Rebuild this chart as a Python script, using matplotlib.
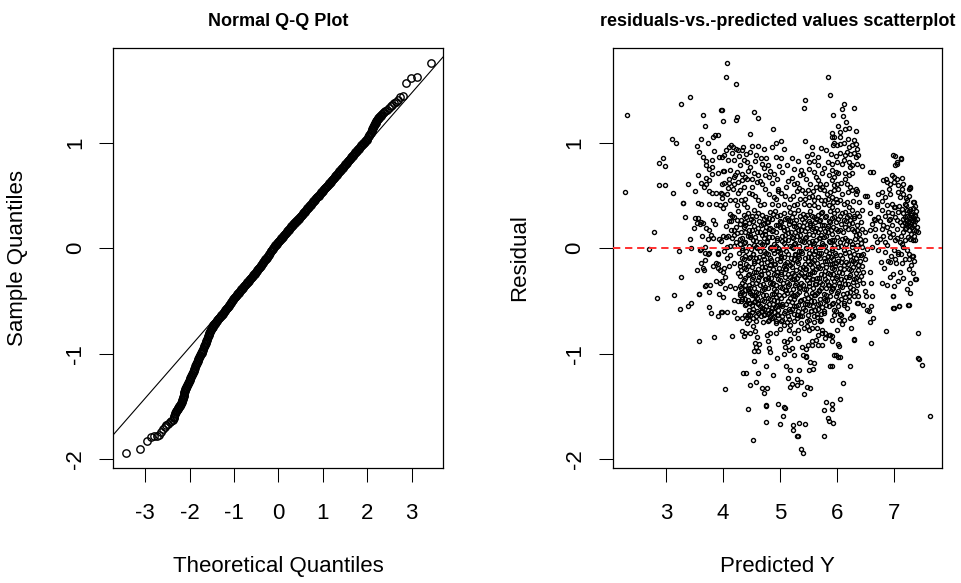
import matplotlib
matplotlib.use("Agg")
import matplotlib.pyplot as plt

plt.rcParams['font.family'] = ['Liberation Sans', 'DejaVu Sans']
plt.rcParams['axes.unicode_minus'] = False

# ---------------- Q-Q plot data (theoretical, sample) ----------------
qq_points = [
    (-3.43, -1.94), (-3.12, -1.90), (-2.96, -1.83), (-2.87, -1.79), (-2.80, -1.775), (-2.74, -1.78),
    (-2.69, -1.77), (-2.64, -1.745), (-2.60, -1.71), (-2.56, -1.69), (-2.52, -1.675), (-2.48, -1.665),
    (-2.44, -1.65), (-2.41, -1.64), (-2.38, -1.625), (-2.36, -1.61), (-2.34, -1.585), (-2.32, -1.56),
    (-2.30, -1.545), (-2.28, -1.53), (-2.26, -1.515), (-2.24, -1.505), (-2.22, -1.49), (-2.20, -1.475),
    (-2.18, -1.46), (-2.16, -1.44), (-2.145, -1.42), (-2.13, -1.40), (-2.12, -1.375), (-2.11, -1.355),
    (-2.10, -1.335), (-2.08, -1.32), (-2.06, -1.305), (-2.04, -1.29), (-2.02, -1.27), (-2.00, -1.25),
    (-1.98, -1.23), (-1.96, -1.21), (-1.94, -1.19), (-1.92, -1.17), (-1.90, -1.15), (-1.88, -1.13),
    (-1.86, -1.11), (-1.84, -1.09), (-1.82, -1.07), (-1.80, -1.05), (-1.78, -1.03), (-1.76, -1.01),
    (-1.74, -0.995), (-1.72, -0.98), (-1.70, -0.96), (-1.68, -0.94), (-1.66, -0.92), (-1.64, -0.90),
    (-1.62, -0.875), (-1.60, -0.855), (-1.58, -0.835), (-1.56, -0.81), (-1.54, -0.79), (-1.52, -0.775),
    (-1.50, -0.76), (-1.48, -0.745), (-1.46, -0.73), (-1.43, -0.715), (-1.40, -0.70), (-1.37, -0.68),
    (-1.34, -0.665), (-1.31, -0.65), (-1.28, -0.635), (-1.25, -0.62), (-1.22, -0.60), (-1.19, -0.585),
    (-1.16, -0.57), (-1.13, -0.555), (-1.10, -0.54), (-1.07, -0.52), (-1.04, -0.50), (-1.01, -0.48),
    (-0.98, -0.465), (-0.95, -0.45), (-0.92, -0.435), (-0.89, -0.42), (-0.86, -0.405), (-0.83, -0.39),
    (-0.80, -0.375), (-0.77, -0.36), (-0.74, -0.345), (-0.71, -0.33), (-0.68, -0.315), (-0.65, -0.30),
    (-0.62, -0.285), (-0.59, -0.27), (-0.56, -0.255), (-0.53, -0.24), (-0.50, -0.225), (-0.47, -0.21),
    (-0.44, -0.19), (-0.41, -0.175), (-0.38, -0.16), (-0.35, -0.14), (-0.32, -0.125), (-0.29, -0.105),
    (-0.26, -0.09), (-0.23, -0.07), (-0.20, -0.05), (-0.17, -0.03), (-0.14, -0.015), (-0.11, 0.005),
    (-0.08, 0.02), (-0.05, 0.035), (-0.02, 0.05), (0.01, 0.065), (0.04, 0.08), (0.07, 0.095),
    (0.10, 0.11), (0.13, 0.125), (0.16, 0.14), (0.19, 0.155), (0.22, 0.17), (0.25, 0.185),
    (0.28, 0.20), (0.31, 0.215), (0.34, 0.23), (0.37, 0.24), (0.40, 0.255), (0.43, 0.27),
    (0.46, 0.28), (0.49, 0.295), (0.52, 0.31), (0.55, 0.325), (0.58, 0.34), (0.61, 0.355),
    (0.64, 0.37), (0.67, 0.385), (0.70, 0.40), (0.73, 0.415), (0.76, 0.43), (0.79, 0.445),
    (0.82, 0.46), (0.85, 0.475), (0.88, 0.49), (0.91, 0.50), (0.94, 0.515), (0.97, 0.53),
    (1.00, 0.545), (1.03, 0.56), (1.06, 0.575), (1.09, 0.59), (1.12, 0.60), (1.15, 0.615),
    (1.18, 0.63), (1.21, 0.645), (1.24, 0.66), (1.27, 0.675), (1.30, 0.69), (1.33, 0.705),
    (1.36, 0.72), (1.39, 0.735), (1.42, 0.75), (1.45, 0.765), (1.48, 0.78), (1.51, 0.795),
    (1.54, 0.81), (1.57, 0.825), (1.60, 0.84), (1.63, 0.855), (1.66, 0.87), (1.69, 0.885),
    (1.72, 0.90), (1.75, 0.915), (1.78, 0.93), (1.81, 0.945), (1.84, 0.96), (1.87, 0.975),
    (1.90, 0.99), (1.93, 1.00), (1.96, 1.015), (1.99, 1.03), (2.02, 1.05), (2.05, 1.07),
    (2.08, 1.09), (2.10, 1.11), (2.12, 1.13), (2.14, 1.15), (2.16, 1.17), (2.18, 1.185),
    (2.20, 1.20), (2.22, 1.215), (2.24, 1.225), (2.26, 1.235), (2.29, 1.25), (2.32, 1.265),
    (2.35, 1.28), (2.38, 1.29), (2.41, 1.30), (2.45, 1.315), (2.49, 1.33), (2.53, 1.345),
    (2.57, 1.36), (2.61, 1.375), (2.65, 1.39), (2.70, 1.41), (2.75, 1.43), (2.80, 1.445),
    (2.88, 1.565), (2.99, 1.615), (3.12, 1.625), (3.44, 1.755),
]
# further points read inside the solid (overplotted) part of the Q-Q band
qq_points_band = [
    (-2.35, -1.60), (-2.33, -1.57), (-2.31, -1.555), (-2.29, -1.535), (-2.27, -1.525), (-2.25, -1.51),
    (-2.23, -1.495), (-2.21, -1.485), (-2.19, -1.465), (-2.17, -1.45), (-2.155, -1.43), (-2.138, -1.41),
    (-2.125, -1.39), (-2.115, -1.365), (-2.105, -1.345), (-2.09, -1.325), (-2.07, -1.315), (-2.05, -1.30),
    (-2.03, -1.28), (-2.01, -1.26), (-1.99, -1.24), (-1.97, -1.22), (-1.95, -1.20), (-1.93, -1.18),
    (-1.91, -1.16), (-1.89, -1.14), (-1.87, -1.12), (-1.85, -1.10), (-1.83, -1.08), (-1.81, -1.06),
    (-1.79, -1.04), (-1.77, -1.02), (-1.75, -1.00), (-1.73, -0.99), (-1.71, -0.97), (-1.69, -0.95),
    (-1.67, -0.93), (-1.65, -0.91), (-1.63, -0.888), (-1.61, -0.865), (-1.59, -0.845), (-1.57, -0.822),
    (-1.55, -0.80), (-1.53, -0.782), (-1.51, -0.768), (-1.49, -0.752), (-1.47, -0.738), (-1.445, -0.722),
    (-1.415, -0.708), (-1.385, -0.69), (-1.355, -0.672), (-1.325, -0.658), (-1.295, -0.642),
    (-1.265, -0.628), (-1.235, -0.61), (-1.205, -0.592), (-1.175, -0.578), (-1.145, -0.562),
    (-1.115, -0.548), (-1.085, -0.53), (-1.055, -0.51), (-1.025, -0.49), (-0.995, -0.472),
    (-0.965, -0.458), (-0.935, -0.442), (-0.905, -0.428), (-0.875, -0.412), (-0.845, -0.398),
    (-0.815, -0.382), (-0.785, -0.368), (-0.755, -0.352), (-0.725, -0.338), (-0.695, -0.322),
    (-0.665, -0.308), (-0.635, -0.292), (-0.605, -0.278), (-0.575, -0.262), (-0.545, -0.248),
    (-0.515, -0.232), (-0.485, -0.218), (-0.455, -0.20), (-0.425, -0.182), (-0.395, -0.168),
    (-0.365, -0.15), (-0.335, -0.132), (-0.305, -0.115), (-0.275, -0.098), (-0.245, -0.08),
    (-0.215, -0.06), (-0.185, -0.04), (-0.155, -0.022), (-0.125, -0.005), (-0.095, 0.012),
    (-0.065, 0.028), (-0.035, 0.042), (-0.005, 0.058), (0.025, 0.072), (0.055, 0.088), (0.085, 0.102),
    (0.115, 0.118), (0.145, 0.132), (0.175, 0.148), (0.205, 0.162), (0.235, 0.178), (0.265, 0.192),
    (0.295, 0.208), (0.325, 0.222), (0.355, 0.235), (0.385, 0.248), (0.415, 0.262), (0.445, 0.275),
    (0.475, 0.288), (0.505, 0.302), (0.535, 0.318), (0.565, 0.332), (0.595, 0.348), (0.625, 0.362),
    (0.655, 0.378), (0.685, 0.392), (0.715, 0.408), (0.745, 0.422), (0.775, 0.438), (0.805, 0.452),
    (0.835, 0.468), (0.865, 0.482), (0.895, 0.495), (0.925, 0.508), (0.955, 0.522), (0.985, 0.538),
    (1.015, 0.552), (1.045, 0.568), (1.075, 0.582), (1.105, 0.595), (1.135, 0.608), (1.165, 0.622),
    (1.195, 0.638), (1.225, 0.652), (1.255, 0.668), (1.285, 0.682), (1.315, 0.698), (1.345, 0.712),
    (1.375, 0.728), (1.405, 0.742), (1.435, 0.758), (1.465, 0.772), (1.495, 0.788), (1.525, 0.802),
    (1.555, 0.818), (1.585, 0.832), (1.615, 0.848), (1.645, 0.862), (1.675, 0.878), (1.705, 0.892),
    (1.735, 0.908), (1.765, 0.922), (1.795, 0.938), (1.825, 0.952), (1.855, 0.968), (1.885, 0.982),
    (1.915, 0.995), (1.945, 1.008), (1.975, 1.022), (2.005, 1.04), (2.035, 1.06), (2.065, 1.08),
    (2.09, 1.10), (2.11, 1.12), (2.13, 1.14), (2.15, 1.16), (2.17, 1.178), (2.19, 1.192),
    (2.21, 1.208), (2.23, 1.22), (2.25, 1.23), (2.275, 1.242), (2.305, 1.258), (2.335, 1.272),
]
qq_line_intercept = 0.0245
qq_line_slope = 0.482

qq_xticks = [-3, -2, -1, 0, 1, 2, 3]
qq_yticks = [-2, -1, 0, 1]
sc_xticks = [3, 4, 5, 6, 7]
sc_yticks = [-2, -1, 0, 1]

# ---------------- residuals vs predicted (predicted, residual) ----------------
pts_left = [
    (2.31, 1.26), (2.28, 0.53), (2.79, 0.15), (2.71, -0.01), (2.88, 0.81), (2.94, 0.86), (2.99, 0.78),
    (2.88, 0.60), (2.98, 0.60), (3.11, 1.04), (3.17, 1.00), (3.12, 0.52), (3.27, 1.37), (3.42, 1.43),
    (3.23, -0.03), (3.29, 0.43), (3.30, 0.43), (3.34, 0.30), (3.38, 0.61), (3.42, 0.09), (3.44, 0.0),
    (3.27, -0.275), (3.50, 0.54), (3.49, 0.19), (2.85, -0.47), (3.14, -0.44), (3.25, -0.575),
    (3.39, -0.547), (3.43, -0.52), (3.58, -0.436), (3.58, -0.88), (3.56, 0.43), (3.54, 0.97),
    (3.57, 0.91), (3.56, 0.69), (3.51, 0.29), (3.56, 0.29), (3.54, 0.24), (3.59, 0.23), (3.57, -0.435),
    (3.54, -0.21), (3.60, -0.02),
]
pts_left_mid = [
    (3.65, 1.26), (3.68, 1.16), (3.62, 1.04), (3.73, 1.00), (3.82, 1.05), (3.86, 1.07), (3.91, 1.07),
    (3.96, 1.31), (4.00, 1.21), (3.64, 0.865), (3.70, 0.825), (3.81, 0.835), (3.85, 0.92), (3.93, 0.865),
    (3.71, 0.79), (3.76, 0.755), (3.81, 0.77), (3.81, 0.707), (3.91, 0.714), (4.00, 0.733), (3.71, 0.666),
    (3.75, 0.645), (3.71, 0.61), (3.61, 0.62), (3.66, 0.58), (3.75, 0.54), (3.80, 0.52), (3.88, 0.52),
    (3.96, 0.52), (3.99, 0.48), (3.62, 0.42), (3.76, 0.42), (3.87, 0.42), (3.94, 0.41), (4.00, 0.38),
    (3.62, 0.25), (3.65, 0.24), (3.82, 0.27), (3.86, 0.23), (3.71, 0.19), (3.76, 0.175), (3.63, 0.114),
    (3.74, 0.09), (3.79, 0.13), (3.83, 0.10), (3.93, 0.085), (4.00, 0.12), (3.68, 0.012), (3.62, -0.01),
    (3.68, -0.04), (3.75, -0.04), (3.91, -0.045), (3.97, 0.065), (3.74, -0.05), (3.91, -0.054),
    (3.61, -0.14), (3.69, -0.115), (3.88, -0.135), (3.91, -0.15), (3.82, -0.17), (3.65, -0.19),
    (3.66, -0.21), (3.92, -0.19), (3.95, -0.21), (4.00, -0.225), (3.88, -0.31), (3.95, -0.33),
    (3.71, -0.35), (3.68, -0.36), (3.77, -0.35), (3.76, -0.415), (3.93, -0.435), (4.00, -0.46),
    (3.76, -0.56), (3.79, -0.61), (3.92, -0.64), (3.96, -0.60), (3.84, -0.845),
]
pts_upper = [
    (4.07, 1.76), (4.05, 1.62), (4.23, 1.56), (3.98, 1.31), (4.22, 1.22), (4.25, 1.24), (4.55, 1.29),
    (4.61, 1.23), (4.47, 1.08), (4.87, 1.13), (4.93, 1.00), (5.01, 1.02), (5.43, 1.41), (5.42, 1.33),
    (5.44, 1.02), (5.83, 1.62), (5.87, 1.45), (5.93, 1.26), (5.91, 1.05), (5.93, 0.976),
    (4.05, 0.93), (4.11, 0.96), (4.14, 0.976), (4.18, 0.96), (4.23, 0.944), (4.26, 0.93), (4.33, 0.93),
    (4.51, 0.966), (4.62, 0.966), (4.48, 0.913), (3.98, 0.866), (4.20, 0.834), (4.37, 0.84), (4.42, 0.82),
    (4.29, 0.786), (4.66, 0.856), (4.76, 0.856), (4.92, 0.865), (5.01, 0.86), (4.68, 0.80), (4.44, 0.73),
    (4.33, 0.708), (4.21, 0.69), (4.01, 0.733), (4.10, 0.66), (4.19, 0.675), (4.54, 0.714), (4.62, 0.69),
    (4.74, 0.69), (4.83, 0.73), (4.90, 0.70), (4.80, 0.676), (5.24, 0.755), (5.36, 0.745), (5.40, 0.707),
    (5.34, 0.69), (5.50, 0.82), (5.56, 0.89), (5.60, 0.824), (5.67, 0.865), (5.67, 0.786), (5.51, 0.755),
    (5.59, 0.72), (5.73, 0.714), (5.84, 0.82),
    (3.98, 0.613), (4.01, 0.62), (4.11, 0.62), (4.20, 0.61), (4.27, 0.63), (4.33, 0.65), (4.42, 0.66),
    (4.36, 0.58), (4.30, 0.55), (4.59, 0.63), (4.65, 0.635), (4.69, 0.61), (4.97, 0.565), (4.96, 0.543),
    (5.14, 0.635), (5.25, 0.613), (5.29, 0.543), (5.38, 0.556), (5.44, 0.527), (5.49, 0.55), (5.62, 0.676),
    (5.66, 0.645), (5.70, 0.613), (5.73, 0.58), (5.76, 0.55), (5.62, 0.58), (5.82, 0.518), (5.88, 0.534),
    (5.79, 0.455), (5.91, 0.486), (5.94, 0.597), (5.67, 0.486), (5.59, 0.455), (5.50, 0.486), (5.43, 0.47),
    (3.98, 0.518), (4.07, 0.518), (4.13, 0.455), (4.04, 0.423), (4.21, 0.455), (4.24, 0.41), (4.32, 0.455),
    (4.39, 0.47), (4.36, 0.423), (4.42, 0.39), (4.51, 0.518), (4.56, 0.50), (4.61, 0.455), (4.65, 0.41),
    (4.71, 0.423), (4.80, 0.518), (4.89, 0.486), (4.86, 0.423), (4.97, 0.41), (5.06, 0.423), (5.09, 0.50),
    (5.18, 0.47), (5.15, 0.39), (5.24, 0.41), (5.29, 0.423), (5.35, 0.47), (5.41, 0.423), (5.50, 0.41),
    (5.59, 0.41), (5.67, 0.39), (5.76, 0.423), (5.85, 0.41), (5.93, 0.44),
]
pts_upper_extra = [
    (4.02, 0.88), (4.09, 0.84), (4.16, 0.90), (4.28, 0.87), (4.35, 0.96), (4.40, 0.89), (4.47, 0.77),
    (4.56, 0.83), (4.71, 0.76), (4.79, 0.79), (4.86, 0.62), (4.95, 0.66), (5.04, 0.72), (5.11, 0.58),
    (5.20, 0.67), (5.30, 0.62), (5.46, 0.66), (5.53, 0.61), (5.58, 0.54), (5.69, 0.56), (5.80, 0.61),
    (5.86, 0.69), (5.77, 0.76), (5.89, 0.89), (5.80, 0.93), (5.71, 0.95), (5.55, 0.96), (5.47, 0.87),
    (5.31, 0.83), (5.20, 0.86), (5.12, 0.79), (5.07, 0.94), (4.98, 0.78), (4.85, 0.96), (4.72, 0.94),
    (4.58, 0.88), (4.50, 0.58), (4.45, 0.52), (4.27, 0.52), (4.18, 0.56), (4.08, 0.57), (4.13, 0.74),
    (4.25, 0.72), (4.38, 0.68), (4.50, 0.66), (4.74, 0.56), (4.92, 0.47), (5.02, 0.52), (5.22, 0.50),
    (5.33, 0.57), (5.56, 0.50), (5.72, 0.46), (5.83, 0.47), (6.00, 0.44), (6.08, 0.51), (6.19, 0.53),
    (6.28, 0.45), (6.38, 0.44), (6.06, 0.62), (6.13, 0.66), (6.23, 0.77), (6.05, 0.90), (6.12, 1.00),
    (6.19, 1.04), (6.02, 1.16), (6.16, 1.20),
]
pts_upper_right = [
    (5.94, 1.05), (6.04, 1.05), (6.30, 1.03), (6.33, 0.99), (6.26, 0.976), (6.20, 0.96), (5.99, 0.976),
    (6.05, 0.99), (5.95, 1.0), (5.91, 1.09), (6.04, 1.10), (6.13, 1.134), (6.21, 1.14), (6.33, 1.11),
    (6.08, 1.32), (6.11, 1.37), (6.10, 1.25), (6.29, 1.33),
    (6.17, 0.913), (6.14, 0.88), (6.23, 0.897), (6.29, 0.90), (6.35, 0.944), (6.37, 0.88), (6.32, 0.866),
    (5.97, 0.87), (5.91, 0.80), (5.99, 0.82), (6.08, 0.80), (6.11, 0.834), (6.20, 0.82), (6.26, 0.786),
    (6.34, 0.80), (6.43, 0.777), (6.62, 0.725),
    (5.91, 0.74), (5.97, 0.72), (6.02, 0.71), (5.95, 0.676), (6.14, 0.71), (6.20, 0.69), (6.26, 0.714),
    (5.91, 0.65), (5.99, 0.613), (5.94, 0.55), (6.02, 0.565), (6.17, 0.613), (6.23, 0.58), (6.26, 0.55),
    (6.32, 0.565), (6.32, 0.518), (6.35, 0.54), (6.49, 0.50), (6.58, 0.44), (6.52, 0.50),
    (5.97, 0.47), (6.05, 0.455), (6.11, 0.423), (6.17, 0.44), (6.20, 0.39), (6.26, 0.36), (6.29, 0.31),
    (6.35, 0.33), (6.43, 0.36), (5.91, 0.39), (5.99, 0.36), (6.08, 0.33), (6.17, 0.30), (6.23, 0.265),
    (6.11, 0.265), (6.02, 0.28), (5.94, 0.30), (6.14, 0.20), (6.20, 0.233), (6.26, 0.186), (6.35, 0.17),
    (6.43, 0.186), (6.49, 0.155), (6.32, 0.123), (6.40, 0.09), (6.49, 0.075), (5.97, 0.186), (6.05, 0.17),
    (5.91, 0.14), (5.99, 0.107), (6.08, 0.09), (6.17, 0.075), (6.26, 0.044), (6.35, 0.028), (6.43, 0.013),
    (6.52, -0.004), (6.02, 0.013), (6.11, -0.02), (6.20, -0.035), (6.29, -0.05), (6.37, -0.067),
    (6.46, -0.05), (5.91, -0.02), (5.97, -0.067),
]
pts_mid_right = [
    (5.95, 0.33), (6.04, 0.31), (6.13, 0.34), (6.21, 0.32), (6.30, 0.29), (6.39, 0.31),
    (5.97, 0.25), (6.06, 0.23), (6.15, 0.26), (6.26, 0.24), (6.34, 0.22), (6.42, 0.25),
    (5.93, 0.20), (6.01, 0.16), (6.10, 0.15), (6.19, 0.18), (6.29, 0.16), (6.38, 0.14),
    (5.95, 0.08), (6.04, 0.06), (6.13, 0.10), (6.22, 0.07), (6.31, 0.09), (6.41, 0.05),
    (5.94, 0.03), (6.07, 0.02), (6.16, 0.04), (6.25, 0.01), (6.33, -0.01),
    (5.96, -0.04), (6.05, -0.06), (6.14, -0.04), (6.23, -0.07), (6.33, -0.09), (6.42, -0.06),
    (5.98, -0.14), (6.07, -0.13), (6.19, -0.15), (6.27, -0.12), (6.36, -0.16),
    (5.94, -0.20), (6.03, -0.22), (6.11, -0.20), (6.24, -0.21), (6.32, -0.23), (6.45, -0.22),
    (5.98, -0.28), (6.07, -0.29), (6.20, -0.27), (6.29, -0.29), (6.39, -0.30),
    (5.95, -0.35), (6.05, -0.36), (6.13, -0.34), (6.22, -0.37), (6.32, -0.40),
    (5.99, -0.42), (6.10, -0.43), (6.21, -0.45), (6.02, -0.50), (6.11, -0.52),
]
pts_right_cluster = [
    (6.98, 0.88), (7.12, 0.855), (7.05, 0.80), (7.02, 0.786), (6.96, 0.69), (6.99, 0.676), (7.13, 0.666),
    (7.04, 0.66), (6.81, 0.65), (6.87, 0.63), (6.93, 0.613), (6.99, 0.63), (7.06, 0.603), (7.16, 0.606),
    (7.25, 0.565), (7.28, 0.58), (6.72, 0.518), (6.78, 0.534), (6.84, 0.486), (6.93, 0.518), (7.07, 0.534),
    (7.16, 0.518), (7.10, 0.486), (7.22, 0.455), (7.34, 0.44), (7.19, 0.423), (6.69, 0.423), (6.78, 0.45),
    (6.87, 0.41), (6.96, 0.423), (7.02, 0.39), (6.58, 0.33), (6.64, 0.28), (6.72, 0.30), (6.78, 0.36),
    (6.84, 0.31), (6.90, 0.265), (6.96, 0.33), (7.02, 0.30), (7.07, 0.344), (7.16, 0.33), (7.22, 0.36),
    (7.25, 0.30), (7.31, 0.265), (7.37, 0.31), (7.42, 0.155), (7.31, 0.20), (7.22, 0.233), (6.61, 0.233),
    (6.67, 0.186), (6.78, 0.186), (6.87, 0.20), (6.96, 0.217), (7.05, 0.186), (7.13, 0.217), (7.16, 0.28),
    (7.10, 0.25), (7.19, 0.186), (7.26, 0.17), (7.34, 0.12), (7.37, 0.075), (7.28, 0.09), (6.58, 0.17),
    (6.67, 0.12), (6.75, 0.09), (6.84, 0.06), (6.93, 0.107), (7.02, 0.075), (7.10, 0.06), (7.16, 0.013),
    (7.22, -0.02), (7.07, -0.05), (6.61, 0.013), (6.72, -0.02), (6.84, -0.035), (6.99, -0.02),
    (7.25, -0.05), (7.31, -0.07), (7.36, 0.315), (7.33, 0.44), (7.27, 0.57), (7.33, 0.08), (6.57, 0.726),
    (7.01, 0.878), (7.12, 0.846), (6.85, 0.657), (7.04, 0.815),
    (7.20, 0.27), (7.24, 0.25), (7.28, 0.28), (7.30, 0.23), (7.33, 0.26), (7.27, 0.21), (7.23, 0.31),
    (7.35, 0.22), (7.29, 0.33), (7.18, 0.24), (7.26, 0.35), (7.32, 0.30), (7.21, 0.19), (7.34, 0.17),
    (7.15, 0.15), (7.12, 0.12), (7.36, 0.26), (7.38, 0.35), (7.40, 0.28), (7.40, 0.20),
    (6.70, 0.40), (6.75, 0.26), (6.81, 0.22), (6.89, 0.34), (6.93, 0.28), (6.99, 0.39), (7.05, 0.27),
    (7.09, 0.40), (7.14, 0.37), (7.19, 0.30), (7.21, 0.41), (7.28, 0.37), (7.32, 0.38), (7.36, 0.40),
    (7.38, 0.16), (7.30, 0.14), (7.24, 0.11), (7.18, 0.08), (7.13, 0.04), (7.05, 0.10), (6.97, 0.14),
    (6.90, 0.15), (6.80, 0.12), (6.70, 0.06), (6.66, 0.27), (6.88, 0.03), (6.95, -0.07), (7.03, -0.14),
    (7.18, -0.10), (7.29, -0.16), (7.35, -0.12), (6.82, -0.19), (6.92, -0.27), (7.15, -0.28),
    (7.20, 0.48), (7.26, 0.50), (7.13, 0.56), (6.91, 0.56), (7.30, 0.32), (7.25, 0.22),
]
pts_right_low = [
    (6.98, -0.455), (6.99, -0.566), (7.09, -0.55), (7.25, -0.534), (7.27, -0.424), (7.22, -0.386),
    (7.27, -0.33), (7.36, -0.29), (7.38, -0.295), (7.32, -0.23), (7.25, -0.20), (7.10, -0.22),
    (6.98, -0.24), (7.07, -0.31), (7.00, -0.36), (6.88, -0.345), (6.78, -0.33), (6.89, -0.12),
    (6.93, -0.13), (7.01, -0.10), (7.13, -0.14), (7.26, -0.10), (7.32, -0.07), (7.07, -0.035),
    (7.12, -0.05), (6.76, -0.13), (6.57, -0.22), (6.59, -0.33), (6.46, -0.33), (6.49, -0.40),
    (6.61, -0.455), (6.51, -0.455), (6.46, -0.534), (6.53, -0.58), (6.55, -0.59), (6.59, -0.545),
    (6.37, -0.455), (6.34, -0.52), (6.25, -0.63), (6.27, -0.64), (6.22, -0.66), (6.62, -0.66),
    (6.57, -0.70), (6.24, -0.76), (6.29, -0.866), (5.91, -0.834), (6.02, -0.91), (6.03, -0.93),
    (5.97, -1.008), (6.04, -1.03), (5.91, -1.12), (5.99, -0.77), (6.08, -0.72), (6.11, -0.68),
    (6.04, -0.62), (6.06, -0.63), (5.95, -0.585), (5.98, -0.59), (5.91, -0.68), (6.11, -0.534),
    (6.22, -0.41), (6.37, -0.52), (7.09, -0.544), (6.98, -0.57), (7.24, -0.537), (6.97, -0.45),
    (5.93, -0.10), (6.01, -0.12), (6.09, -0.09), (6.16, -0.13), (6.24, -0.11), (6.31, -0.14),
    (6.40, -0.12), (6.48, -0.10), (5.96, -0.17), (6.04, -0.19), (6.12, -0.16), (6.20, -0.20),
    (6.28, -0.18), (6.36, -0.21), (6.44, -0.17), (5.92, -0.24), (6.00, -0.26), (6.08, -0.23),
    (6.15, -0.27), (6.23, -0.25), (6.32, -0.28), (6.41, -0.26), (5.95, -0.31), (6.03, -0.33),
    (6.11, -0.30), (6.19, -0.34), (6.27, -0.32), (6.35, -0.35), (5.93, -0.38), (6.01, -0.40),
    (6.09, -0.37), (6.17, -0.42), (6.27, -0.39), (6.30, -0.45), (5.97, -0.45), (6.06, -0.48),
    (6.14, -0.46), (6.21, -0.50), (5.92, -0.52), (6.01, -0.55), (6.17, -0.57), (5.95, -0.63),
    (6.03, -0.68),
]
pts_low_tail = [
    (4.03, -1.337), (4.16, -0.83), (4.35, -1.18), (4.41, -1.185), (4.47, -1.30), (4.43, -1.52),
    (4.52, -1.82), (4.58, -1.265), (4.61, -1.185), (4.55, -1.065), (4.68, -1.32), (4.77, -1.32),
    (4.72, -1.375), (4.75, -1.485), (4.76, -1.49), (4.75, -1.645), (4.88, -1.20), (4.76, -1.12),
    (4.95, -1.04), (4.96, -1.48), (5.06, -1.507), (5.08, -1.51), (5.05, -1.59), (5.00, -1.665),
    (5.10, -1.12), (5.18, -1.153), (5.14, -1.23), (5.17, -1.31), (5.20, -1.29), (5.29, -1.24),
    (5.33, -1.153), (5.29, -1.30), (5.37, -1.265), (5.41, -1.385), (5.47, -1.31), (5.53, -1.32),
    (5.23, -1.675), (5.23, -1.72), (5.29, -1.78), (5.31, -1.78), (5.33, -1.66), (5.43, -1.665),
    (5.37, -1.90), (5.40, -1.937), (5.51, -1.153), (5.58, -1.147), (5.45, -1.027), (5.52, -1.08),
    (5.76, -1.53), (5.76, -1.776), (5.80, -1.46), (5.91, -1.476), (5.90, -1.526), (5.83, -1.605),
    (5.86, -1.64), (5.93, -1.66), (5.87, -1.115), (6.04, -1.43), (6.10, -1.28), (6.23, -1.115),
    (5.94, -1.01), (6.01, -1.03), (6.85, -0.78), (7.42, -0.80), (7.42, -1.043), (7.43, -1.05),
    (7.49, -1.106), (7.62, -1.587), (6.60, -0.90), (6.30, -0.86),
    (4.55, -0.977), (4.61, -0.97), (4.58, -0.935), (4.56, -0.90), (4.63, -0.904), (4.59, -0.844),
    (4.80, -0.945), (4.82, -0.983), (4.79, -0.88), (5.06, -1.0), (5.15, -0.967), (5.09, -0.94),
    (5.24, -1.008), (5.21, -0.945), (5.32, -0.85), (5.18, -0.86), (5.06, -0.88), (5.12, -0.89),
    (5.40, -1.015), (5.45, -1.024), (5.59, -1.087), (5.38, -0.935), (5.46, -0.95), (5.49, -0.913),
    (5.56, -0.913), (5.67, -0.913), (5.73, -0.913), (5.55, -0.88), (5.62, -0.866), (5.66, -0.82),
    (5.73, -0.80), (5.79, -0.85), (5.88, -0.825), (5.91, -0.88),
    (5.15, -0.77), (5.24, -0.80), (5.32, -0.77), (5.41, -0.755), (5.00, -0.765), (4.92, -0.80),
    (4.83, -0.80), (4.77, -0.82), (4.56, -0.787), (4.53, -0.74), (4.48, -0.80), (4.39, -0.80),
    (4.36, -0.834), (4.33, -0.787), (5.18, -0.724), (5.06, -0.724), (5.47, -0.74), (5.51, -0.77),
    (5.56, -0.755), (5.65, -0.755), (5.73, -0.77), (5.79, -0.80), (5.85, -0.82),
]
pts_core_left = [
    (3.98, -0.60), (4.07, -0.60), (4.20, -0.60), (4.04, -0.376), (4.13, -0.36), (4.21, -0.376),
    (4.30, -0.36), (3.98, -0.313), (4.04, -0.275), (4.01, -0.187), (4.10, -0.171), (4.19, -0.139),
    (4.07, -0.092), (4.01, -0.029), (4.13, -0.06), (4.19, -0.487), (4.27, -0.50), (4.24, -0.66),
    (4.33, -0.66), (4.39, -0.63), (4.45, -0.676), (4.42, -0.708), (4.33, -0.41), (4.39, -0.392),
    (4.48, -0.424), (4.54, -0.44), (4.45, -0.518), (4.56, -0.50), (4.62, -0.518), (4.68, -0.566),
    (4.62, -0.613), (4.71, -0.63), (4.80, -0.613), (4.86, -0.66), (4.92, -0.69), (4.97, -0.63),
    (5.03, -0.676), (4.86, -0.566), (4.94, -0.55),
]
pts_core = [
    (4.12, 0.325), (4.27, 0.35), (4.44, 0.335), (4.55, 0.36), (4.69, 0.32), (4.83, 0.345), (4.91, 0.355),
    (5.06, 0.33), (5.17, 0.34), (5.31, 0.36), (5.40, 0.325), (5.53, 0.35), (5.66, 0.32), (5.74, 0.345),
    (5.87, 0.355),
    (4.16, 0.31), (4.32, 0.27), (4.41, 0.295), (4.58, 0.305), (4.72, 0.28), (4.80, 0.29), (4.95, 0.31),
    (5.09, 0.275), (5.20, 0.30), (5.28, 0.27), (5.44, 0.295), (5.56, 0.305), (5.63, 0.275), (5.78, 0.30),
    (5.90, 0.285),
    (4.14, 0.255), (4.30, 0.23), (4.45, 0.24), (4.53, 0.26), (4.67, 0.225), (4.78, 0.25), (4.93, 0.22),
    (5.01, 0.245), (5.18, 0.255), (5.33, 0.225), (5.42, 0.25), (5.52, 0.235), (5.68, 0.26), (5.76, 0.22),
    (5.88, 0.245),
    (4.05, 0.21), (4.20, 0.175), (4.36, 0.20), (4.50, 0.17), (4.61, 0.195), (4.76, 0.205), (4.88, 0.175),
    (5.00, 0.20), (5.12, 0.185), (5.24, 0.21), (5.37, 0.17), (5.47, 0.195), (5.58, 0.205), (5.70, 0.18),
    (5.82, 0.19),
    (4.09, 0.12), (4.24, 0.145), (4.39, 0.155), (4.47, 0.125), (4.64, 0.15), (4.74, 0.135), (4.86, 0.16),
    (5.03, 0.12), (5.14, 0.145), (5.26, 0.155), (5.35, 0.13), (5.50, 0.14), (5.61, 0.16), (5.72, 0.125),
    (5.84, 0.15),
    (4.15, 0.10), (4.30, 0.085), (4.47, 0.11), (4.58, 0.07), (4.72, 0.095), (4.86, 0.105), (4.94, 0.08),
    (5.09, 0.09), (5.20, 0.11), (5.34, 0.075), (5.43, 0.10), (5.56, 0.07), (5.69, 0.095), (5.77, 0.105),
    (5.90, 0.075),
    (4.13, 0.02), (4.29, 0.045), (4.38, 0.055), (4.55, 0.03), (4.69, 0.04), (4.77, 0.06), (4.92, 0.025),
    (5.06, 0.05), (5.17, 0.02), (5.25, 0.045), (5.41, 0.055), (5.53, 0.025), (5.60, 0.05), (5.75, 0.035),
    (5.87, 0.06),
    (4.34, -0.02), (4.49, -0.01), (4.57, 0.01), (4.71, -0.025), (4.82, 0.0), (4.97, -0.03), (5.05, -0.005),
    (5.22, 0.005), (5.37, -0.025), (5.46, 0.0), (5.56, -0.015), (5.72, 0.01), (5.80, -0.03),
    (4.38, -0.075), (4.52, -0.05), (4.63, -0.08), (4.78, -0.055), (4.90, -0.045), (5.02, -0.075),
    (5.14, -0.05), (5.26, -0.065), (5.39, -0.04), (5.49, -0.08), (5.60, -0.055), (5.72, -0.045),
    (5.84, -0.07),
    (4.37, -0.105), (4.45, -0.095), (4.62, -0.125), (4.72, -0.10), (4.84, -0.115), (5.01, -0.09),
    (5.12, -0.13), (5.24, -0.105), (5.33, -0.095), (5.48, -0.12), (5.59, -0.11), (5.70, -0.09),
    (5.82, -0.125),
    (4.30, -0.17), (4.44, -0.165), (4.55, -0.14), (4.69, -0.18), (4.83, -0.155), (4.91, -0.145),
    (5.06, -0.17), (5.17, -0.16), (5.31, -0.14), (5.40, -0.175), (5.53, -0.15), (5.66, -0.18),
    (5.74, -0.155), (5.87, -0.145),
    (4.32, -0.205), (4.41, -0.195), (4.58, -0.22), (4.72, -0.21), (4.80, -0.19), (4.95, -0.225),
    (5.09, -0.20), (5.20, -0.23), (5.28, -0.205), (5.44, -0.195), (5.56, -0.225), (5.63, -0.20),
    (5.78, -0.215), (5.90, -0.19),
    (4.30, -0.26), (4.45, -0.24), (4.53, -0.275), (4.67, -0.25), (4.78, -0.28), (4.93, -0.255),
    (5.01, -0.245), (5.18, -0.275), (5.33, -0.25), (5.42, -0.265), (5.52, -0.24), (5.68, -0.28),
    (5.76, -0.255), (5.88, -0.245),
    (4.36, -0.30), (4.50, -0.33), (4.61, -0.305), (4.76, -0.295), (4.88, -0.325), (5.00, -0.30),
    (5.12, -0.315), (5.24, -0.29), (5.37, -0.33), (5.47, -0.305), (5.58, -0.295), (5.70, -0.32),
    (5.82, -0.31),
    (4.39, -0.345), (4.47, -0.375), (4.64, -0.35), (4.74, -0.365), (4.86, -0.34), (5.03, -0.38),
    (5.14, -0.355), (5.26, -0.345), (5.35, -0.37), (5.50, -0.36), (5.61, -0.34), (5.72, -0.375),
    (5.84, -0.35),
    (4.29, -0.425), (4.46, -0.40), (4.57, -0.415), (4.71, -0.39), (4.85, -0.43), (4.93, -0.405),
    (5.08, -0.395), (5.19, -0.42), (5.33, -0.41), (5.42, -0.39), (5.55, -0.425), (5.68, -0.40),
    (5.76, -0.43), (5.89, -0.405),
    (4.30, -0.44), (4.39, -0.48), (4.56, -0.455), (4.70, -0.445), (4.78, -0.47), (4.93, -0.46),
    (5.07, -0.44), (5.18, -0.475), (5.26, -0.45), (5.42, -0.48), (5.54, -0.455), (5.61, -0.445),
    (5.76, -0.475), (5.88, -0.45),
    (4.32, -0.495), (4.47, -0.52), (4.55, -0.51), (4.69, -0.49), (4.80, -0.525), (4.95, -0.50),
    (5.03, -0.53), (5.20, -0.505), (5.35, -0.495), (5.44, -0.525), (5.54, -0.50), (5.70, -0.515),
    (5.78, -0.49), (5.90, -0.53),
    (4.39, -0.54), (4.53, -0.575), (4.64, -0.55), (4.79, -0.58), (4.91, -0.555), (5.03, -0.545),
    (5.15, -0.575), (5.27, -0.55), (5.40, -0.565), (5.50, -0.54), (5.61, -0.58), (5.73, -0.555),
    (5.85, -0.545),
    (4.43, -0.63), (4.51, -0.605), (4.68, -0.595), (4.78, -0.625), (4.90, -0.60), (5.07, -0.615),
    (5.18, -0.59), (5.30, -0.63), (5.39, -0.605), (5.54, -0.595), (5.65, -0.62), (5.76, -0.61),
    (4.42, -0.65), (4.53, -0.665), (4.67, -0.64), (4.81, -0.68), (4.89, -0.655), (5.04, -0.645),
    (5.15, -0.67), (5.29, -0.66), (5.38, -0.64), (5.51, -0.675), (5.64, -0.65), (5.72, -0.68),
]
pts_core_dense = [
    (4.20, 0.30), (4.36, 0.32), (4.50, 0.31), (4.62, 0.33), (4.76, 0.30), (4.87, 0.325), (4.99, 0.315),
    (5.12, 0.29), (5.24, 0.33), (5.35, 0.305), (5.47, 0.32), (5.60, 0.30), (5.71, 0.335), (5.81, 0.31),
    (4.10, 0.255), (4.25, 0.27), (4.38, 0.25), (4.49, 0.28), (4.63, 0.26), (4.77, 0.245), (4.85, 0.275),
    (5.00, 0.255), (5.14, 0.265), (5.25, 0.24), (5.38, 0.28), (5.50, 0.26), (5.61, 0.25), (5.70, 0.27),
    (5.85, 0.26),
    (4.22, 0.20), (4.39, 0.225), (4.55, 0.21), (4.70, 0.23), (4.83, 0.195), (4.97, 0.22), (5.05, 0.205),
    (5.15, 0.23), (5.28, 0.20), (5.40, 0.215), (5.53, 0.225), (5.63, 0.195), (5.73, 0.22), (5.84, 0.21),
    (4.14, 0.17), (4.31, 0.155), (4.45, 0.175), (4.59, 0.15), (4.73, 0.165), (4.80, 0.18), (4.92, 0.155),
    (5.07, 0.17), (5.19, 0.15), (5.31, 0.175), (5.44, 0.16), (5.55, 0.18), (5.66, 0.15), (5.78, 0.165),
    (5.89, 0.175),
    (4.05, 0.11), (4.19, 0.125), (4.33, 0.10), (4.43, 0.12), (4.56, 0.105), (4.69, 0.13), (4.80, 0.11),
    (4.95, 0.095), (5.09, 0.125), (5.22, 0.10), (5.30, 0.12), (5.46, 0.105), (5.58, 0.13), (5.68, 0.10),
    (5.80, 0.115),
    (4.22, 0.06), (4.37, 0.05), (4.52, 0.075), (4.64, 0.055), (4.77, 0.07), (4.90, 0.045), (5.03, 0.065),
    (5.14, 0.08), (5.26, 0.05), (5.39, 0.07), (5.51, 0.055), (5.63, 0.075), (5.74, 0.05), (5.86, 0.065),
    (4.07, 0.01), (4.19, 0.025), (4.33, 0.0), (4.46, 0.02), (4.60, 0.005), (4.72, 0.03), (4.84, 0.01),
    (4.96, 0.0), (5.10, 0.025), (5.21, 0.01), (5.33, 0.02), (5.45, 0.0), (5.57, 0.03), (5.67, 0.015),
    (5.79, 0.02), (5.90, 0.005),
    (4.28, -0.04), (4.40, -0.025), (4.53, -0.05), (4.64, -0.03), (4.76, -0.045), (4.87, -0.02),
    (5.00, -0.04), (5.11, -0.03), (5.26, -0.05), (5.33, -0.025), (5.50, -0.045), (5.61, -0.03),
    (5.68, -0.04), (5.85, -0.045),
    (4.33, -0.09), (4.47, -0.08), (4.58, -0.095), (4.70, -0.075), (4.83, -0.09), (4.95, -0.10),
    (5.07, -0.08), (5.19, -0.09), (5.31, -0.075), (5.43, -0.095), (5.54, -0.085), (5.66, -0.07),
    (5.77, -0.095), (5.89, -0.085),
    (4.30, -0.135), (4.41, -0.15), (4.54, -0.125), (4.66, -0.14), (4.77, -0.13), (4.89, -0.145),
    (5.00, -0.125), (5.08, -0.15), (5.20, -0.135), (5.29, -0.12), (5.43, -0.145), (5.55, -0.13),
    (5.65, -0.14), (5.78, -0.125), (5.90, -0.15),
    (4.36, -0.19), (4.50, -0.18), (4.61, -0.20), (4.74, -0.175), (4.87, -0.195), (4.98, -0.185),
    (5.10, -0.20), (5.21, -0.18), (5.34, -0.19), (5.45, -0.195), (5.56, -0.175), (5.69, -0.19),
    (5.80, -0.18),
    (4.27, -0.235), (4.43, -0.25), (4.55, -0.225), (4.67, -0.24), (4.78, -0.23), (4.90, -0.245),
    (5.02, -0.22), (5.14, -0.24), (5.24, -0.25), (5.36, -0.23), (5.49, -0.245), (5.60, -0.225),
    (5.71, -0.24), (5.83, -0.235),
    (4.38, -0.28), (4.50, -0.29), (4.63, -0.275), (4.73, -0.295), (4.84, -0.28), (4.97, -0.29),
    (5.09, -0.27), (5.21, -0.295), (5.30, -0.285), (5.44, -0.275), (5.55, -0.29), (5.64, -0.28),
    (5.78, -0.295), (5.90, -0.285),
    (4.33, -0.33), (4.46, -0.345), (4.58, -0.325), (4.70, -0.34), (4.82, -0.33), (4.93, -0.35),
    (5.05, -0.325), (5.16, -0.34), (5.28, -0.33), (5.40, -0.345), (5.51, -0.325), (5.62, -0.34),
    (5.74, -0.335), (5.85, -0.345),
    (4.31, -0.38), (4.43, -0.39), (4.55, -0.375), (4.68, -0.395), (4.79, -0.38), (4.90, -0.39),
    (5.00, -0.37), (5.11, -0.395), (5.22, -0.385), (5.33, -0.375), (5.46, -0.39), (5.57, -0.38),
    (5.68, -0.395), (5.80, -0.38), (5.91, -0.39),
    (4.37, -0.43), (4.51, -0.44), (4.62, -0.425), (4.75, -0.445), (4.89, -0.43), (4.98, -0.44),
    (5.12, -0.425), (5.23, -0.445), (5.29, -0.435), (5.46, -0.43), (5.59, -0.445), (5.64, -0.425),
    (5.80, -0.44),
    (4.34, -0.48), (4.44, -0.49), (4.60, -0.475), (4.72, -0.495), (4.83, -0.48), (4.89, -0.49),
    (5.01, -0.475), (5.13, -0.495), (5.24, -0.48), (5.37, -0.49), (5.48, -0.475), (5.59, -0.495),
    (5.70, -0.48), (5.82, -0.49),
    (4.40, -0.53), (4.51, -0.54), (4.62, -0.525), (4.75, -0.545), (4.87, -0.53), (4.99, -0.54),
    (5.10, -0.525), (5.24, -0.545), (5.32, -0.535), (5.47, -0.53), (5.58, -0.545), (5.66, -0.525),
    (5.81, -0.54),
    (4.46, -0.58), (4.59, -0.59), (4.71, -0.575), (4.84, -0.595), (4.96, -0.58), (5.08, -0.59),
    (5.20, -0.575), (5.31, -0.595), (5.43, -0.58), (5.54, -0.59), (5.66, -0.575), (5.77, -0.595),
    (4.47, -0.63), (4.58, -0.645), (4.72, -0.625), (4.83, -0.64), (4.95, -0.63), (5.13, -0.645),
    (5.25, -0.625), (5.35, -0.64), (5.48, -0.63), (5.60, -0.645), (5.71, -0.625),
    (4.57, -0.69), (4.70, -0.70), (4.78, -0.685), (4.92, -0.705), (5.01, -0.69), (5.12, -0.70),
    (5.25, -0.685), (5.36, -0.705), (5.47, -0.69), (5.59, -0.70), (5.70, -0.685),
]

scatter_groups = [pts_left, pts_left_mid, pts_upper, pts_upper_extra, pts_upper_right, pts_mid_right,
                  pts_right_cluster, pts_right_low, pts_low_tail, pts_core_left, pts_core, pts_core_dense]
pred_y = [p[0] for g in scatter_groups for p in g]
resid = [p[1] for g in scatter_groups for p in g]

qq_all = qq_points + qq_points_band
qq_theo = [p[0] for p in qq_all]
qq_samp = [p[1] for p in qq_all]

# ---------------- figure ----------------
fig = plt.figure(figsize=(9.62, 5.83), dpi=100, facecolor='white')
ax1 = fig.add_axes([0.1178, 0.1967, 0.3427, 0.7215])
ax2 = fig.add_axes([0.6369, 0.1967, 0.3426, 0.7215])

FS = 16

# Q-Q panel
ax1.plot(qq_theo, qq_samp, linestyle='none', marker='o', markersize=5.3,
         markerfacecolor='none', markeredgecolor='black', markeredgewidth=1.0, zorder=2)
ax1.axline((0, qq_line_intercept), slope=qq_line_slope, color='black', lw=0.8, zorder=3)
ax1.set_xlim(-3.716, 3.709)
ax1.set_ylim(-2.085, 1.901)
ax1.set_xticks(qq_xticks)
ax1.set_xticklabels([str(t) for t in qq_xticks])
ax1.set_yticks(qq_yticks)
ax1.set_yticklabels([str(t) for t in qq_yticks], rotation=90, va='center')
ax1.set_title('Normal Q-Q Plot', fontsize=13, fontweight='bold', pad=15.6)
ax1.set_xlabel('Theoretical Quantiles', fontsize=FS)
ax1.set_ylabel('Sample Quantiles', fontsize=FS)
ax1.xaxis.set_label_coords(0.5, -0.2083)
ax1.yaxis.set_label_coords(-0.258, 0.5)

# Scatter panel
ax2.plot(pred_y, resid, linestyle='none', marker='o', markersize=2.9,
         markerfacecolor='none', markeredgecolor='black', markeredgewidth=1.0, zorder=2)
ax2.axhline(0, color='#ff3030', lw=1.4, linestyle=(0, (3.75, 2.45)), zorder=3)
ax2.set_xlim(2.067, 7.84)
ax2.set_ylim(-2.085, 1.901)
ax2.set_xticks(sc_xticks)
ax2.set_xticklabels([str(t) for t in sc_xticks])
ax2.set_yticks(sc_yticks)
ax2.set_yticklabels([str(t) for t in sc_yticks], rotation=90, va='center')
ax2.set_title('residuals-vs.-predicted values scatterplot', fontsize=13, fontweight='bold', pad=15.6)
ax2.set_xlabel('Predicted Y', fontsize=FS)
ax2.set_ylabel('Residual', fontsize=FS)
ax2.xaxis.set_label_coords(0.5, -0.2083)
ax2.yaxis.set_label_coords(-0.252, 0.5)

for ax in (ax1, ax2):
    for s in ax.spines.values():
        s.set_linewidth(0.9)
        s.set_color('black')
    ax.tick_params(axis='both', direction='out', length=10, width=0.75, labelsize=FS, color='black')
    ax.tick_params(axis='x', pad=15)
    ax.tick_params(axis='y', pad=9.5)
    ax.set_facecolor('white')

fig.savefig('out.png', dpi=100, facecolor='white')
